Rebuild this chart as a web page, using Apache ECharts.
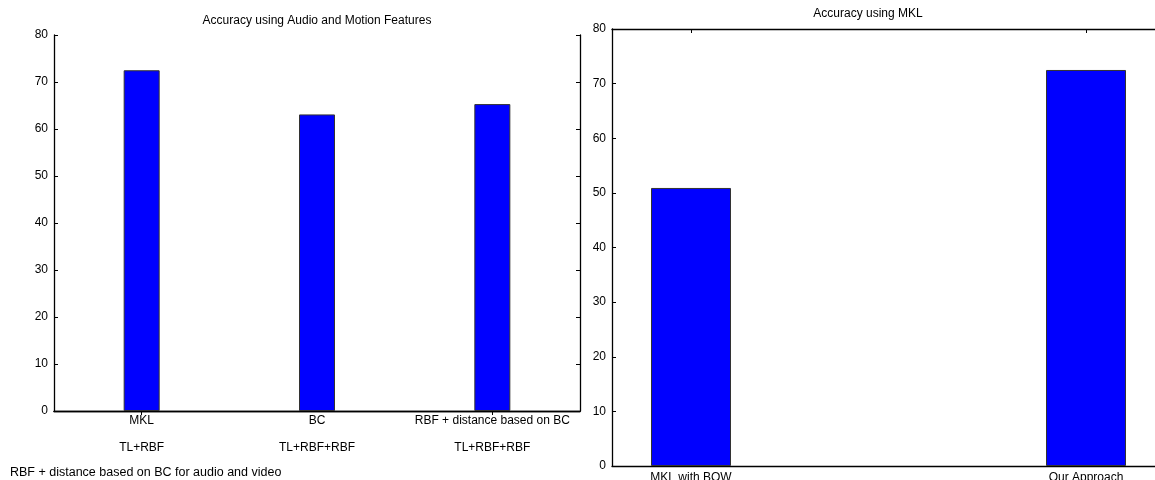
<!DOCTYPE html>
<html>
<head>
<meta charset="utf-8">
<script src="https://cdn.jsdelivr.net/npm/echarts@6/dist/echarts.min.js"></script>
<style>
html, body { margin: 0; padding: 0; background: #fff; }
#chart { width: 1155px; height: 480px; }
</style>
</head>
<body>
<div id="chart"></div>
<script>
// left panel
var leftCategories = ['MKL\n\nTL+RBF', 'BC\n\nTL+RBF+RBF', 'RBF + distance based on BC\n\nTL+RBF+RBF'];
var leftValues = [72.5, 63.1, 65.3];
// right panel
var rightCategories = ['MKL with BOW', 'Our Approach'];
var rightPositions = [1, 2];
var rightValues = [50.9, 72.5];

var FONT = 'Liberation Sans, Arial, sans-serif';
var lineStyle = { color: '#000', width: 1.3 };
var tickStyle = { show: true, inside: true, length: 4, lineStyle: { color: '#000', width: 1 } };

var rightData = rightPositions.map(function (x, i) { return [x, rightValues[i]]; });

var option = {
	animation: false,
	textStyle: { fontFamily: FONT },
	grid: [
		{ left: 54, right: 575, top: 35, height: 376, containLabel: false, outerBoundsMode: 'none' },
		{ left: 612, right: -10, top: 29, height: 437, containLabel: false, outerBoundsMode: 'none' }
	],
	graphic: [
		// titles + footer note
		{ type: 'text', x: 317, y: 21, style: { text: 'Accuracy using Audio and Motion Features', font: '12px ' + FONT, fill: '#000', align: 'center', verticalAlign: 'middle' } },
		{ type: 'text', x: 868, y: 14, style: { text: 'Accuracy using MKL', font: '12px ' + FONT, fill: '#000', align: 'center', verticalAlign: 'middle' } },
		{ type: 'text', x: 10, y: 473, style: { text: 'RBF + distance based on BC for audio and video', font: '12.5px ' + FONT, fill: '#000', align: 'left', verticalAlign: 'middle' } }
	],
	xAxis: [
		{
			type: 'category', gridIndex: 0, data: leftCategories, position: 'bottom',
			axisLine: { lineStyle: lineStyle },
			axisTick: Object.assign({ alignWithLabel: true }, tickStyle),
			axisLabel: { color: '#000', fontSize: 12, margin: 3, lineHeight: 13.5, interval: 0 }
		},
		{
			type: 'category', gridIndex: 0, data: leftCategories, position: 'top',
			axisLine: { lineStyle: lineStyle },
			axisTick: Object.assign({ alignWithLabel: true }, tickStyle),
			axisLabel: { show: false }
		},
		{
			type: 'value', gridIndex: 1, min: 0.8, max: 2.2, position: 'bottom',
			splitLine: { show: false },
			axisLine: { lineStyle: lineStyle },
			axisTick: Object.assign({ customValues: rightPositions }, tickStyle),
			axisLabel: {
				color: '#000', fontSize: 12, margin: 6, customValues: rightPositions,
				formatter: function (v) { return rightCategories[Math.round(v) - 1] || ''; }
			}
		},
		{
			type: 'value', gridIndex: 1, min: 0.8, max: 2.2, position: 'top',
			splitLine: { show: false },
			axisLine: { lineStyle: lineStyle },
			axisTick: Object.assign({ customValues: rightPositions }, tickStyle),
			axisLabel: { show: false }
		}
	],
	yAxis: [
		{
			type: 'value', gridIndex: 0, min: 0, max: 80, interval: 10, position: 'left',
			splitLine: { show: false },
			axisLine: { show: true, lineStyle: lineStyle },
			axisTick: tickStyle,
			axisLabel: { color: '#000', fontSize: 12, margin: 6 }
		},
		{
			type: 'value', gridIndex: 0, min: 0, max: 80, interval: 10, position: 'right',
			splitLine: { show: false },
			axisLine: { show: true, lineStyle: lineStyle },
			axisTick: tickStyle,
			axisLabel: { show: false }
		},
		{
			type: 'value', gridIndex: 1, min: 0, max: 80, interval: 10, position: 'left',
			splitLine: { show: false },
			axisLine: { show: true, lineStyle: lineStyle },
			axisTick: tickStyle,
			axisLabel: { color: '#000', fontSize: 12, margin: 6 }
		}
	],
	series: [
		{
			type: 'bar', xAxisIndex: 0, yAxisIndex: 0, data: leftValues, barWidth: 36,
			itemStyle: { color: '#0000ff', borderColor: '#333', borderWidth: 1 }
		},
		{
			type: 'bar', xAxisIndex: 2, yAxisIndex: 2, data: rightData, barWidth: 80,
			itemStyle: { color: '#0000ff', borderColor: '#333', borderWidth: 1 }
		}
	]
};

var myChart = echarts.init(document.getElementById('chart'));
myChart.setOption(option);
</script>
</body>
</html>
